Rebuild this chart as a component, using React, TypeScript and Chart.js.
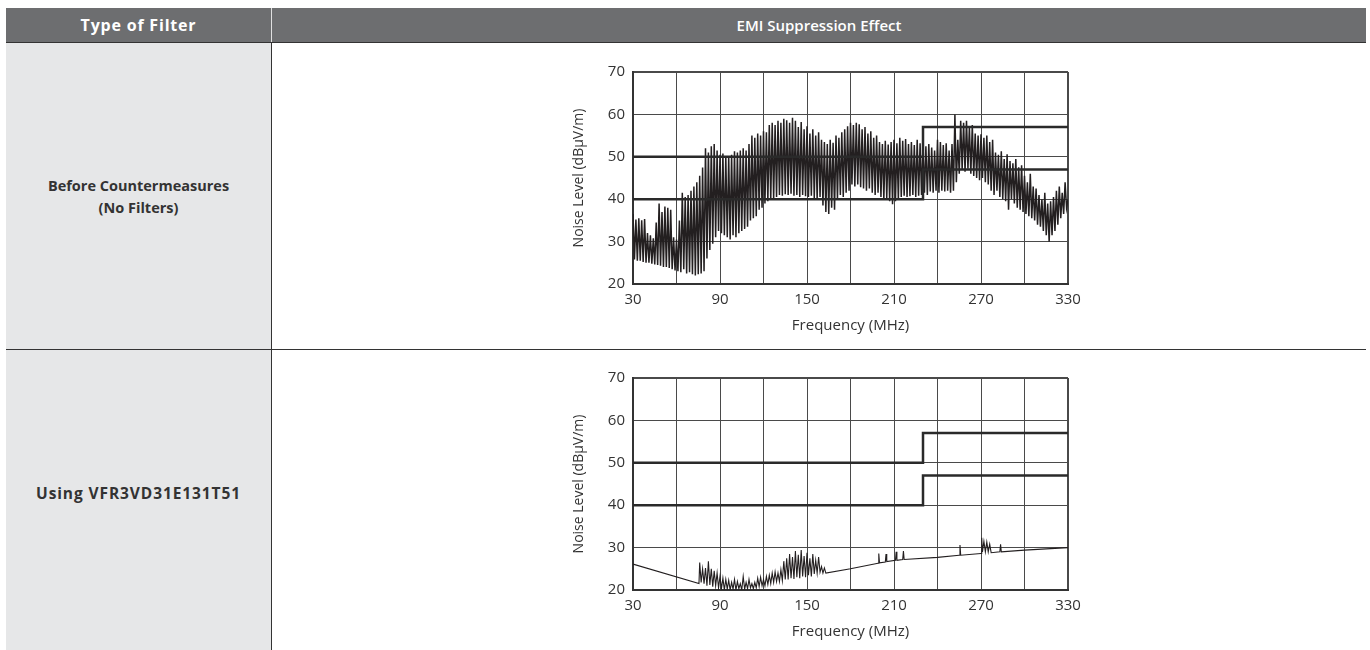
import React, { useEffect, useRef } from "react";
import { Chart, registerables } from "chart.js";

Chart.register(...registerables);

const FONT = "'Open Sans', 'DejaVu Sans', sans-serif";

// ---- axis ticks ----
const xTickLabels = [30, 90, 150, 210, 270, 330];
const yTickLabels = [20, 30, 40, 50, 60, 70];

// ---- limit lines (frequency MHz, level dBuV/m) ----
const limitFreq = [30, 230, 230, 330];
const upperLimit = [50, 50, 57, 57];
const lowerLimit = [40, 40, 47, 47];

// ---- Before countermeasures: peaks at 30,32,...,330 MHz; troughs at 31,33,...,329 MHz ----
const beforeFreqStart = 30;
const beforePeaks = [
  36.5, 35.2, 35.5, 35.0, 35.3, 32.0, 31.5, 30.8, 34.5, 39.0,
  37.0, 38.3, 38.0, 37.5, 31.0, 30.5, 35.0, 41.5, 40.5, 41.0,
  42.0, 43.0, 44.0, 45.5, 47.5, 52.0, 51.0, 52.5, 53.0, 51.5,
  50.5, 50.8, 50.2, 50.0, 50.5, 51.3, 51.0, 51.5, 52.0, 51.5,
  53.0, 55.0, 54.5, 55.5, 55.0, 56.0, 55.8, 57.5, 58.0, 57.5,
  58.5, 58.0, 59.0, 58.6, 58.0, 59.2, 58.5, 57.0, 58.2, 56.5,
  57.2, 55.5, 56.5, 55.0, 55.8, 54.0, 53.5, 53.0, 54.0, 53.3,
  55.0, 54.5, 55.8, 56.5, 57.2, 58.0, 57.5, 58.0, 57.7, 56.5,
  57.0, 55.5, 56.0, 54.5, 55.0, 53.5, 53.0, 53.8, 52.9, 53.5,
  54.0, 53.2, 54.5, 53.8, 54.2, 53.0, 53.5, 52.8, 54.0, 53.2,
  53.0, 52.5, 53.0, 52.2, 51.5, 54.0, 53.5, 52.8, 53.2, 51.5,
  53.0, 60.0, 54.0, 58.5, 58.0, 58.5, 57.0, 57.5, 55.5, 55.0,
  55.3, 54.5, 55.0, 53.5, 54.0, 51.0, 50.5, 51.3, 49.5, 50.6,
  49.0, 48.5, 49.5, 47.5, 48.0, 45.5, 44.0, 46.0, 43.0, 42.5,
  41.0, 40.0, 41.5, 39.0, 39.5, 40.5, 42.0, 43.0, 41.5, 44.0,
  40.0,
];
const beforeTroughs = [
  25.8, 25.5, 25.5, 25.2, 25.0, 25.0, 24.8, 24.6, 24.5, 24.3,
  24.0, 24.0, 23.8, 23.5, 23.2, 23.0, 22.8, 23.5, 22.5, 22.8,
  22.3, 22.0, 22.3, 22.5, 23.0, 26.0, 28.0, 29.5, 31.0, 32.5,
  32.0, 31.5, 31.0, 30.5, 31.5, 31.0, 32.0, 32.5, 33.0, 33.5,
  35.0, 35.5, 36.0, 37.5, 38.0, 39.0, 39.5, 39.8, 40.0, 40.5,
  41.0, 40.8, 41.2, 41.0, 41.3, 40.8, 41.0, 40.5, 41.0, 40.7,
  40.5, 40.8, 40.3, 40.0, 40.5, 38.5, 37.0, 36.5, 38.0, 37.5,
  40.0, 41.0, 40.5, 41.5, 42.0, 43.5, 43.0, 43.5, 42.8, 42.5,
  42.0, 42.5, 41.5, 41.0, 41.5, 40.5, 40.0, 40.3, 39.5, 38.8,
  39.5, 40.0, 40.5, 40.8, 40.5, 40.7, 41.0, 40.5, 40.8, 41.0,
  41.5, 41.0, 41.8, 41.5, 42.0, 41.5, 42.0, 41.8, 42.0, 41.5,
  42.0, 44.0, 46.0, 47.0, 46.5, 47.2, 46.0, 45.5, 45.0, 44.5,
  45.0, 44.0, 43.5, 42.0, 41.0, 42.0, 40.5, 40.0, 39.5, 37.5,
  40.0, 39.0, 38.0, 37.5, 37.0, 36.5, 36.0, 35.5, 35.0, 34.0,
  33.5, 32.5, 31.5, 30.0, 31.5, 32.5, 34.0, 35.5, 36.5, 38.0,
];

// ---- Using VFR3VD31E131T51 ----
const afterFreq = [
  30, 75.5, 76, 77, 78, 79, 80, 81, 82, 83, 84, 85, 86, 87, 88, 89,
  90, 91, 92, 93, 94, 95, 96, 97, 98, 99, 100, 101, 102, 103, 104, 105,
  106, 107, 108, 109, 110, 111, 112, 113, 114, 115, 116, 117, 118, 119, 120, 121,
  122, 123, 124, 125, 126, 127, 128, 129, 130, 131, 132, 133, 134, 135, 136, 137,
  138, 139, 140, 141, 142, 143, 144, 145, 146, 147, 148, 149, 150, 151, 152, 153,
  154, 155, 156, 157, 158, 159, 160, 161, 162, 163,
  180, 199, 199.5, 200, 204, 204.5, 205, 211, 211.5, 212, 216, 216.5, 217,
  240, 255, 255.5, 256, 270, 270.5, 271, 272, 273, 274, 275, 276, 277,
  283, 283.5, 284, 300, 330,
];
const afterLevel = [
  26.1, 21.5, 26.5, 21.8, 25.0, 21.5, 25.2, 21.0, 26.8, 21.2, 25.0, 20.8, 24.5, 21.0, 24.0, 20.5,
  23.2, 20.3, 22.8, 20.0, 22.5, 20.2, 22.3, 20.0, 21.8, 20.2, 22.5, 20.0, 22.0, 20.3, 21.5, 20.0,
  23.2, 20.2, 21.8, 20.3, 22.5, 20.5, 21.5, 20.3, 21.8, 20.5, 22.8, 20.8, 23.0, 21.0, 22.5, 21.0,
  23.2, 21.3, 23.5, 21.5, 24.0, 21.8, 24.3, 22.0, 24.0, 22.0, 24.8, 22.2, 26.8, 22.5, 27.5, 22.5,
  28.5, 22.8, 27.8, 22.6, 29.2, 23.0, 28.3, 22.8, 29.4, 23.2, 28.0, 23.0, 28.8, 23.5, 27.5, 23.2,
  28.5, 23.8, 27.0, 24.0, 27.8, 24.2, 25.5, 24.0, 25.2, 24.0,
  25.0, 26.3, 28.6, 26.4, 26.6, 28.5, 26.7, 27.0, 29.0, 27.0, 27.2, 29.2, 27.2,
  27.7, 28.2, 30.6, 28.2, 28.6, 32.3, 29.0, 31.5, 29.0, 31.3, 29.0, 30.8, 28.8,
  29.0, 30.8, 29.0, 29.4, 30.0,
];

type Pt = { x: number; y: number };

function zip(xs: number[], ys: number[]): Pt[] {
  return xs.map((x, i) => ({ x, y: ys[i] }));
}

function beforeSeries(): Pt[] {
  const pts: Pt[] = [];
  beforePeaks.forEach((p, i) => {
    pts.push({ x: beforeFreqStart + 2 * i, y: p });
    if (i < beforeTroughs.length) pts.push({ x: beforeFreqStart + 2 * i + 1, y: beforeTroughs[i] });
  });
  return pts;
}

function EmiChart({ noise, noiseWidth, left, top }: { noise: Pt[]; noiseWidth: number; left: number; top: number }) {
  const ref = useRef<HTMLCanvasElement>(null);
  useEffect(() => {
    const tickFont = { family: FONT, size: 15 };
    const chart = new Chart(ref.current as HTMLCanvasElement, {
      type: "line",
      data: {
        datasets: [
          { data: zip(limitFreq, upperLimit), borderColor: "#2a2a2a", borderWidth: 2.5, pointRadius: 0, tension: 0 },
          { data: zip(limitFreq, lowerLimit), borderColor: "#2a2a2a", borderWidth: 2.5, pointRadius: 0, tension: 0 },
          { data: noise, borderColor: "#231f20", borderWidth: noiseWidth, pointRadius: 0, tension: 0 },
        ],
      },
      options: {
        animation: false,
        responsive: false,
        events: [],
        plugins: { legend: { display: false }, tooltip: { enabled: false } },
        layout: { padding: { top: 22, right: 32, left: 0, bottom: 0 } },
        scales: {
          x: {
            type: "linear",
            min: 30,
            max: 330,
            afterFit: (s: any) => {
              s.height = 56;
            },
            ticks: {
              stepSize: 30,
              autoSkip: false,
              maxRotation: 0,
              padding: 7,
              color: "#333",
              font: tickFont,
              callback: (v: any) => (xTickLabels.includes(Number(v)) ? String(v) : ""),
            },
            grid: {
              color: "#4a4a4a",
              lineWidth: (c: any) => (c.tick && c.tick.value === 330 ? 2 : 1),
              drawTicks: false,
            },
            border: { color: "#333", width: 2 },
            title: {
              display: true,
              text: "Frequency (MHz)",
              color: "#333",
              font: { family: FONT, size: 15 },
              padding: { top: 0, bottom: 5 },
            },
          },
          y: {
            min: 20,
            max: 70,
            afterFit: (s: any) => {
              s.width = 73;
            },
            ticks: {
              stepSize: 10,
              padding: 8,
              color: "#333",
              font: tickFont,
              callback: (v: any) => (yTickLabels.includes(Number(v)) ? String(v) : ""),
            },
            grid: {
              color: "#4a4a4a",
              lineWidth: (c: any) => (c.tick && c.tick.value === 70 ? 2 : 1),
              drawTicks: false,
            },
            border: { color: "#333", width: 2 },
            title: {
              display: true,
              text: "Noise Level (dBμV/m)",
              color: "#333",
              font: { family: FONT, size: 14 },
              padding: { top: 11, bottom: 0 },
            },
          },
        },
      } as any,
    });
    return () => chart.destroy();
  }, []);
  return (
    <canvas
      ref={ref}
      width={540}
      height={290}
      style={{ position: "absolute", left, top, width: 540, height: 290 }}
    />
  );
}

export default function App() {
  const cellText: React.CSSProperties = {
    position: "absolute",
    left: 0,
    width: 265,
    textAlign: "center",
    fontFamily: FONT,
    fontWeight: 700,
    fontSize: 14.5,
    lineHeight: "22px",
    color: "#333",
  };
  const headText: React.CSSProperties = {
    position: "absolute",
    top: 0,
    height: 34,
    lineHeight: "34px",
    textAlign: "center",
    color: "#fff",
    fontFamily: FONT,
    fontWeight: 600,
    fontSize: 15,
  };
  return (
    <div style={{ position: "absolute", left: 6, top: 8, width: 1360, height: 642, background: "#fff" }}>
      {/* header */}
      <div style={{ position: "absolute", left: 0, top: 0, width: 1360, height: 34, background: "#6d6e70" }} />
      <div style={{ ...headText, left: 0, width: 265, fontSize: 16, fontWeight: 700, letterSpacing: 0.8 }}>
        Type of Filter
      </div>
      <div style={{ position: "absolute", left: 265, top: 0, width: 1, height: 34, background: "#e0e0e0" }} />
      <div style={{ ...headText, left: 266, width: 1094 }}>EMI Suppression Effect</div>
      <div style={{ position: "absolute", left: 0, top: 34, width: 1360, height: 1, background: "#333" }} />

      {/* left column */}
      <div style={{ position: "absolute", left: 0, top: 35, width: 265, height: 607, background: "#e6e7e8" }} />
      <div style={{ position: "absolute", left: 265, top: 35, width: 1, height: 607, background: "#333" }} />
      <div style={{ position: "absolute", left: 0, top: 341, width: 1360, height: 1, background: "#333" }} />

      <div style={{ ...cellText, top: 167 }}>
        Before Countermeasures
        <br />
        (No Filters)
      </div>
      <div style={{ ...cellText, top: 474, fontSize: 15.5, letterSpacing: 0.9 }}>Using VFR3VD31E131T51</div>

      <EmiChart noise={beforeSeries()} noiseWidth={1.5} left={554} top={42} />
      <EmiChart noise={zip(afterFreq, afterLevel)} noiseWidth={1.1} left={554} top={348} />
    </div>
  );
}
